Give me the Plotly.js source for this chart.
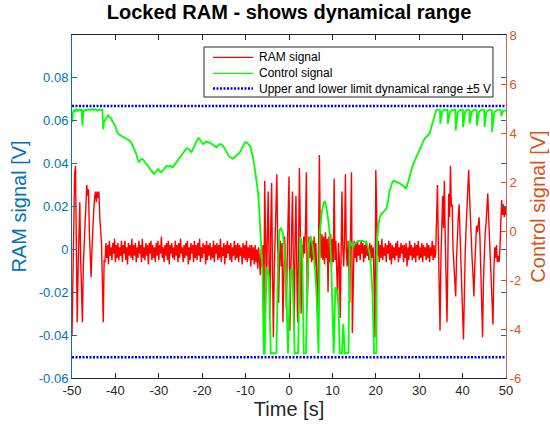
<!DOCTYPE html>
<html><head><meta charset="utf-8">
<script src="https://cdn.plot.ly/plotly-3.0.1.min.js"></script>
<style>html,body{margin:0;padding:0;background:#fff}#chart{width:550px;height:428px}</style>
</head><body><div id="chart"></div>
<script>
// RAM signal [V], sampled every 0.2 s from t = -50 s
const ramStart = -50;
const ramStep = 0.2;
const ramSignal = [
 -0.040,-0.005,0.025,0.035,0.039,0.010,-0.034,-0.010,0.005,0.022,
 -0.005,-0.020,-0.034,-0.008,0.002,0.012,0.018,0.030,0.025,0.028,
 0.008,-0.010,-0.013,0.000,0.012,0.018,0.024,0.027,0.022,0.027,
 0.024,0.027,0.015,0.008,0.003,-0.015,-0.034,-0.005,
 -0.006,0.003,-0.004,0.002,-0.007,0.004,-0.003,0.001,-0.005,0.003,
 -0.002,0.005,-0.006,0.002,-0.004,0.003,-0.005,0.001,-0.003,0.004,
 -0.006,0.002,-0.002,0.004,-0.005,0.001,-0.007,0.003,-0.003,0.002,
 -0.004,0.005,-0.005,0.002,-0.003,0.003,-0.006,0.001,-0.004,0.004,
 -0.002,0.002,-0.006,0.005,-0.004,0.001,-0.005,0.003,-0.003,0.002,
 -0.007,0.003,-0.002,0.004,-0.005,0.002,-0.004,0.001,-0.006,0.003,
 -0.003,0.004,-0.005,0.002,-0.002,0.006,-0.004,0.001,-0.006,0.002,
 -0.003,0.003,-0.005,0.004,-0.007,0.002,-0.002,0.003,-0.004,0.001,
 -0.005,0.004,-0.003,0.002,-0.006,0.003,-0.004,0.005,-0.002,0.001,
 -0.006,0.002,-0.004,0.003,-0.003,0.004,-0.007,0.001,-0.005,0.003,
 -0.002,0.002,-0.006,0.004,-0.004,0.002,-0.005,0.003,-0.003,0.005,
 -0.006,0.001,-0.004,0.003,-0.002,0.002,-0.007,0.004,-0.005,0.002,
 -0.003,0.003,-0.005,0.001,-0.004,0.004,-0.006,0.002,-0.002,0.003,
 -0.005,0.002,-0.004,0.005,-0.006,0.001,-0.003,0.003,-0.007,0.002,
 -0.004,0.004,-0.002,0.002,-0.005,0.003,-0.006,0.001,-0.003,0.004,
 -0.005,0.002,-0.004,0.003,-0.006,0.002,-0.003,0.001,-0.007,0.003,
 -0.004,0.002,-0.005,0.004,-0.006,0.001,-0.004,0.002,-0.008,0.002,
 -0.005,0.001,-0.007,0.002,-0.006,0.000,-0.009,0.001,-0.008,
 -0.012,0.000,-0.008,0.002,-0.036,0.032,0.000,-0.020,0.005,0.027,
 -0.005,-0.030,0.010,0.031,-0.010,-0.041,-0.010,0.005,0.031,0.035,
 0.000,-0.025,-0.005,0.004,-0.008,0.003,-0.034,-0.002,0.006,-0.006,
 -0.028,-0.003,0.010,0.034,-0.038,-0.005,0.008,0.027,-0.010,-0.036,
 0.005,0.025,-0.010,-0.034,0.000,0.038,0.010,-0.030,0.002,-0.004,
 0.006,-0.002,0.010,0.036,-0.026,-0.005,0.006,-0.004,0.005,-0.006,
 0.004,-0.005,0.006,-0.008,0.003,-0.015,-0.032,0.000,0.044,0.010,
 -0.004,0.007,-0.005,0.006,-0.007,0.008,-0.004,0.005,-0.020,0.006,
 -0.006,0.007,-0.008,0.005,-0.006,0.033,-0.005,0.004,-0.010,-0.024,
 0.003,-0.005,-0.032,0.010,0.027,0.000,-0.008,0.005,0.035,0.000,
 -0.008,0.004,-0.010,-0.025,0.010,0.036,-0.039,-0.005,0.004,-0.004,
 0.003,-0.006,0.004,-0.003,0.002,-0.005,0.004,-0.002,0.003,-0.006,
 0.002,-0.004,0.004,-0.003,0.001,-0.005,0.003,-0.006,0.002,-0.004,
 0.001,-0.015,-0.041,0.037,0.005,
 -0.003,0.004,-0.006,0.002,-0.004,0.005,-0.005,0.001,-0.003,0.003,
 -0.006,0.002,-0.002,0.004,-0.005,0.003,-0.007,0.002,-0.004,0.001,
 -0.005,0.003,-0.003,0.004,-0.006,0.001,-0.004,0.003,-0.002,0.002,
 -0.006,0.002,-0.004,0.003,-0.008,0.001,-0.005,0.004,-0.003,0.002,
 -0.005,0.001,-0.004,0.003,-0.006,0.002,-0.003,0.004,-0.005,0.001,
 -0.004,0.003,-0.006,0.002,-0.003,0.001,-0.005,0.003,-0.004,0.002,
 -0.006,0.001,-0.003,0.004,-0.005,0.002,-0.004,-0.002,
 0.010,0.030,0.005,-0.020,-0.038,-0.005,0.015,0.025,0.010,0.032,
 0.005,-0.015,-0.034,-0.005,0.026,0.015,0.039,0.020,0.021,0.000,
 -0.010,-0.015,-0.022,-0.005,0.008,0.015,0.021,0.005,-0.010,-0.020,
 -0.030,-0.042,-0.010,-0.002,0.010,0.020,0.028,0.037,0.025,0.012,
 0.004,-0.005,-0.012,-0.022,-0.008,0.005,0.011,0.008,0.012,0.015,
 0.005,-0.010,-0.025,-0.041,-0.015,0.000,0.008,0.012,0.020,0.026,
 0.015,0.008,-0.005,-0.015,-0.025,-0.035,-0.010,0.001,-0.004,0.002,
 -0.006,-0.003,-0.006,0.000,0.012,0.023,0.016,0.021,0.015,0.020,
 0.016
];

// Control signal [V]
const ctrlTime = [
 -50.0,-49.9,-49.8,-49.6,-49.3,-49.0,-48.7,-48.4,-48.1,-47.8,
 -47.6,-47.4,-47.0,-46.6,-46.2,-45.8,-45.4,-45.0,-44.6,-44.2,
 -43.8,-43.4,-43.0,-42.8,-42.6,-42.3,-42.0,-41.7,-41.4,-41.0,
 -40.6,-40.2,-39.8,-39.4,-39.0,-38.6,-38.3,-37.9,-37.5,-37.1,
 -36.7,-36.3,-35.9,-35.6,-35.2,-34.9,-34.6,-34.3,-34.0,-33.7,
 -33.3,-32.9,-32.5,-32.1,-31.7,-31.4,-31.1,-30.8,-30.5,-30.2,
 -30.0,-29.7,-29.4,-29.1,-28.8,-28.5,-28.2,-27.8,-27.4,-27.0,
 -26.7,-26.4,-26.0,-25.6,-25.2,-24.8,-24.4,-24.0,-23.6,-23.2,
 -22.9,-22.5,-22.1,-21.7,-21.3,-20.9,-20.6,-20.3,-19.8,-19.4,
 -19.0,-18.6,-18.2,-17.8,-17.4,-17.0,-16.7,-16.3,-15.9,-15.5,
 -15.1,-14.7,-14.4,-14.0,-13.6,-13.2,-12.9,-12.5,-12.1,-11.7,
 -11.3,-10.9,-10.5,-10.2,-9.8,-9.5,-9.2,-8.9,-8.6,-8.3,
 -8.0,-7.7,-7.4,-7.1,-6.85,-6.6,-6.35,-6.1,-5.95,-5.8,
 -5.6,-5.4,-5.2,-4.9,-4.6,-4.4,-4.2,-3.8,-3.4,-2.9,
 -2.7,-2.5,-2.2,-1.9,-1.4,-1.0,-0.75,-0.5,-0.22,0.0,
 0.33,0.8,1.1,1.3,2.1,2.3,2.6,2.85,3.1,3.4,
 3.9,4.2,4.6,5.0,5.5,6.0,6.3,6.6,6.8,7.0,
 7.1,7.5,8.0,8.3,8.6,9.0,9.4,9.7,9.9,10.1,
 10.3,10.5,10.7,11.0,11.3,11.5,11.7,12.2,12.4,12.5,
 12.7,12.9,13.7,13.85,14.0,14.4,14.8,15.1,15.5,16.0,
 16.7,17.3,17.8,18.2,18.6,18.9,19.2,19.4,19.6,20.1,
 20.3,20.6,20.9,21.2,21.6,22.0,22.4,22.8,23.2,23.6,
 23.9,24.3,24.7,25.1,25.5,25.9,26.2,26.6,26.9,27.3,
 27.8,28.3,28.8,29.3,29.8,30.3,30.9,31.3,31.6,32.0,
 32.4,32.8,33.2,33.6,33.9,34.3,34.8,34.85,35.3,35.8,
 36.3,36.55,36.6,37.1,37.6,38.0,38.35,38.4,38.9,39.4,
 39.8,40.05,40.1,40.6,41.1,41.55,41.6,42.1,42.7,43.25,
 43.3,43.8,44.4,45.0,45.05,45.5,46.2,46.75,46.8,47.3,
 47.9,48.5,48.85,48.9,49.4,50.0
];
const ctrlSignal = [
 4.70,4.45,4.80,4.95,4.88,4.97,4.90,4.96,4.92,4.98,
 4.30,4.90,4.95,4.92,4.97,4.93,4.98,4.94,4.97,4.91,
 4.96,4.93,4.96,4.15,4.45,4.55,4.68,4.72,4.65,4.60,
 4.45,4.35,4.15,3.98,3.92,3.88,3.82,3.78,3.76,3.72,
 3.69,3.60,3.45,3.36,3.15,2.95,2.81,2.88,2.95,2.93,
 2.82,2.72,2.65,2.55,2.45,2.38,2.33,2.40,2.46,2.52,
 2.50,2.42,2.40,2.47,2.55,2.62,2.66,2.62,2.67,2.62,
 2.60,2.70,2.80,2.92,3.00,3.10,3.22,3.30,3.38,3.36,
 3.28,3.22,3.35,3.52,3.68,3.80,3.75,3.65,3.55,3.62,
 3.66,3.60,3.62,3.55,3.50,3.48,3.42,3.50,3.55,3.53,
 3.45,3.32,3.22,3.10,3.02,2.96,2.95,3.02,3.10,3.15,
 3.22,3.35,3.50,3.60,3.62,3.58,3.52,3.45,3.25,3.00,
 2.70,2.35,1.95,1.52,0.80,0.02,-0.80,-1.61,-3.50,-5.00,
 -5.00,-2.80,-1.48,-1.60,-1.88,-3.50,-5.00,-4.96,-5.00,-4.98,
 -3.00,-1.07,0.02,0.13,-0.11,-0.80,-1.61,-3.20,-5.00,-3.50,
 -1.61,-1.50,-3.79,-5.00,-4.98,-2.50,-0.25,-0.40,-1.34,-5.00,
 -4.98,-2.50,-0.52,-0.21,-0.66,-1.60,-2.43,-3.80,-5.00,-2.00,
 -0.11,0.70,1.18,1.20,0.98,0.50,-0.11,-1.20,-2.43,-4.00,
 -5.00,-3.50,-2.29,-2.40,-2.70,-3.80,-5.00,-4.98,-4.20,-3.79,
 -4.50,-5.00,-4.98,-2.50,-0.39,-0.55,-0.66,-0.52,-0.45,-0.40,
 -0.39,-0.42,-0.45,-0.65,-0.93,-1.50,-2.43,-3.60,-5.00,-4.98,
 -0.39,0.20,0.56,0.68,0.77,0.82,0.90,1.20,1.65,1.90,
 2.03,2.05,1.98,1.99,1.95,1.90,1.86,1.80,1.72,1.90,
 2.27,2.55,2.80,3.01,3.22,3.45,3.69,3.80,3.83,3.90,
 3.97,4.25,4.51,4.75,4.92,4.96,4.93,4.38,4.88,4.96,
 4.92,4.97,4.38,4.88,4.95,4.92,4.97,4.11,4.85,4.95,
 4.92,4.97,4.24,4.88,4.95,4.93,4.38,4.88,4.96,4.92,
 4.30,4.88,4.96,4.93,4.25,4.88,4.95,4.92,4.05,4.85,
 4.93,4.96,4.92,4.70,4.92,4.90
];

// upper / lower limit lines as drawn in the picture (about ±5 V)
const limitTime = [-50, 50];
const limitLevels = [5.1, -5.15];

const timeTicks = [-50,-40,-30,-20,-10,0,10,20,30,40,50];
const timeTickText = ['-50','-40','-30','-20','-10','0','10','20','30','40','50'];
const ramTicks = [-0.06,-0.04,-0.02,0,0.02,0.04,0.06,0.08];
const ramTickText = ['-0.06','-0.04','-0.02','0','0.02','0.04','0.06','0.08'];
const ctrlTicks = [-6,-4,-2,0,2,4,6,8];
const ctrlTickText = ['-6','-4','-2','0','2','4','6','8'];

const seriesNames = ['RAM signal', 'Control signal', 'Upper and lower limit dynamical range ±5 V'];
const seriesColors = ['#FF0000', '#00FF00', '#0000FF'];
const seriesDash = ['solid', 'solid', '2px,1.5px'];
const seriesWidth = [1.4, 1.8, 2.5];

const ramTime = ramSignal.map((_, i) => ramStart + i * ramStep);
const limX = [], limY = [];
limitLevels.forEach((lv, k) => {
  if (k > 0) { limX.push(null); limY.push(null); }
  limitTime.forEach(t => { limX.push(t); limY.push(lv); });
});

const FONT = 'Liberation Sans, Arial, Helvetica, sans-serif';
const BLUE = '#0072BD', ORANGE = '#D95319', DARK = '#262626';

const traces = [
  {type:'scatter', mode:'lines', name:seriesNames[0], x: ramTime, y: ramSignal, yaxis:'y',
   line:{color:seriesColors[0], width:seriesWidth[0]}},
  {type:'scatter', mode:'lines', name:seriesNames[1], x: ctrlTime, y: ctrlSignal, yaxis:'y2',
   line:{color:seriesColors[1], width:seriesWidth[1]}},
  {type:'scatter', mode:'lines', name:seriesNames[2], x: limX, y: limY, yaxis:'y2',
   connectgaps:false, line:{color:seriesColors[2], width:seriesWidth[2], dash:seriesDash[2]}}
];

// Legend box drawn in paper coordinates (MATLAB-style)
const legBox = {x0:0.3041, x1:0.9700, y0:0.8192, y1:0.9650};
const legRows = [0.9350, 0.8883, 0.8440];
const legLine = [0.3249, 0.4171];
const legText = 0.4263;

const shapes = [{type:'rect', xref:'paper', yref:'paper', x0:legBox.x0, x1:legBox.x1, y0:legBox.y0, y1:legBox.y1,
  line:{color:DARK, width:1}, fillcolor:'#fff', layer:'above'}];
const annotations = [];
seriesNames.forEach((nm, k) => {
  shapes.push({type:'line', xref:'paper', yref:'paper', x0:legLine[0], x1:legLine[1], y0:legRows[k], y1:legRows[k],
    line:{color:seriesColors[k], width:k===2?2.5:1.2, dash:seriesDash[k]}, layer:'above'});
  annotations.push({xref:'paper', yref:'paper', x:legText, y:legRows[k], xanchor:'left', yanchor:'middle',
    text:nm, showarrow:false, font:{family:FONT, size:12, color:'#000'}});
});

const layout = {
  width:550, height:428,
  margin:{l:72, r:44, t:35, b:50},
  paper_bgcolor:'#fff', plot_bgcolor:'#fff',
  font:{family:FONT, color:DARK},
  showlegend:false,
  shapes: shapes,
  annotations: annotations,
  title:{text:'<b>Locked RAM - shows dynamical range</b>', font:{family:FONT, size:20, color:'#000'},
         x:0.5, xref:'paper', xanchor:'center', y:0.972, yref:'container', yanchor:'middle'},
  xaxis:{range:[-50,50], tickvals:timeTicks, ticktext:timeTickText, ticks:'inside', ticklen:5,
         tickcolor:DARK, showline:true, linecolor:DARK, linewidth:1, mirror:'ticks',
         showgrid:false, zeroline:false, tickfont:{size:13, color:DARK},
         title:{text:'Time [s]', font:{size:20, color:DARK}, standoff:4}},
  yaxis:{range:[-0.06,0.1], tickvals:ramTicks, ticktext:ramTickText, ticks:'inside', ticklen:5,
         tickcolor:BLUE, showline:true, linecolor:BLUE, linewidth:1, mirror:'ticks',
         showgrid:false, zeroline:false, tickfont:{size:13, color:BLUE},
         title:{text:'RAM signal [V]', font:{size:20, color:BLUE}, standoff:6}},
  yaxis2:{overlaying:'y', side:'right', range:[-6,8], tickvals:ctrlTicks, ticktext:ctrlTickText,
         ticks:'inside', ticklen:5, tickcolor:ORANGE, showline:true, linecolor:'#B86A50', linewidth:1,
         showgrid:false, zeroline:false, tickfont:{size:13, color:ORANGE},
         title:{text:'Control signal [V]', font:{size:20, color:ORANGE}, standoff:10}}
};

Plotly.newPlot('chart', traces, layout, {staticPlot:true, displayModeBar:false});
</script>
</body></html>
